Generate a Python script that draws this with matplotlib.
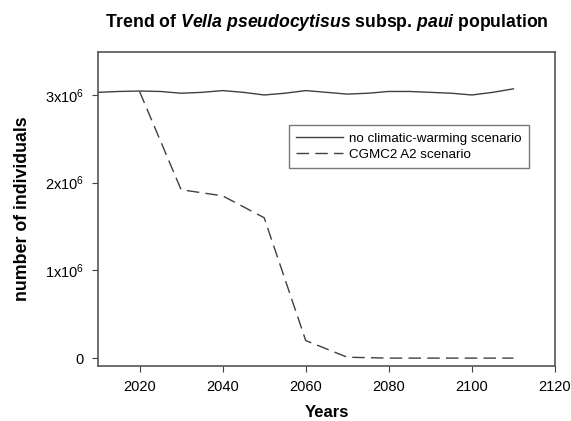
import matplotlib
matplotlib.use('Agg')
import matplotlib.pyplot as plt

plt.rcParams['font.family'] = 'Liberation Sans'
plt.rcParams['mathtext.fontset'] = 'custom'
plt.rcParams['mathtext.rm'] = 'Liberation Sans'
plt.rcParams['mathtext.it'] = 'Liberation Sans:italic'
plt.rcParams['mathtext.bf'] = 'Liberation Sans:bold'
plt.rcParams['mathtext.bfit'] = 'Liberation Sans:italic:bold'

# datos
years_base = [2010, 2015, 2020, 2025, 2030, 2035, 2040, 2045, 2050, 2055, 2060,
              2065, 2070, 2075, 2080, 2085, 2090, 2095, 2100, 2105, 2110]
pop_base = [3.03e6, 3.04e6, 3.045e6, 3.04e6, 3.02e6, 3.03e6, 3.05e6, 3.03e6, 3.0e6,
            3.02e6, 3.05e6, 3.03e6, 3.01e6, 3.02e6, 3.04e6, 3.04e6, 3.03e6, 3.02e6,
            3.0e6, 3.03e6, 3.07e6]
years_a2 = [2020, 2030, 2040, 2050, 2060, 2070, 2080, 2090, 2100, 2110]
pop_a2 = [3.04e6, 1.92e6, 1.85e6, 1.6e6, 0.2e6, 0.01e6, 0, 0, 0, 0]

xticks = [2020, 2040, 2060, 2080, 2100, 2120]
yticks = [0, 1e6, 2e6, 3e6]
ytick_labels = ['0', r'1x10$^6$', r'2x10$^6$', r'3x10$^6$']

fig = plt.figure(figsize=(5.71, 4.21), dpi=100)
ax = fig.add_axes([98/571, 55/421, 457/571, 314/421])

ax.plot(years_base, pop_base, color='#404040', lw=1.0, label='no climatic-warming scenario')
ax.plot(years_a2, pop_a2, color='#404040', lw=1.0, dashes=(9, 4.5), label='CGMC2 A2 scenario')

ax.set_xlim(2010, 2120)
ax.set_ylim(-0.09e6, 3.49e6)
ax.set_xticks(xticks)
ax.set_yticks(yticks)
ax.set_yticklabels(ytick_labels)
ax.tick_params(labelsize=10.5, length=4, color='#404040', pad=6)
for s in ax.spines.values():
    s.set_color('#555555')
    s.set_linewidth(1.2)

ax.set_xlabel('Years', fontsize=12, fontweight='bold', labelpad=8)
ax.set_ylabel('number of individuals', fontsize=12.8, fontweight='bold', labelpad=10)
fig.text(0.572, 1 - 27/421, r'Trend of $\mathbfit{Vella\ pseudocytisus}$ subsp. $\mathbfit{paui}$ population',
         ha='center', va='baseline', fontsize=12.7, fontweight='bold')

leg = ax.legend(loc='upper left', bbox_to_anchor=(191/457, 241/314), fontsize=9.6,
                fancybox=False, edgecolor='#777777', framealpha=1,
                handlelength=3.5, handletextpad=0.45, borderpad=0.55,
                labelspacing=0.3, borderaxespad=0)
leg.get_frame().set_linewidth(1.0)

fig.savefig('out.png', dpi=100)
